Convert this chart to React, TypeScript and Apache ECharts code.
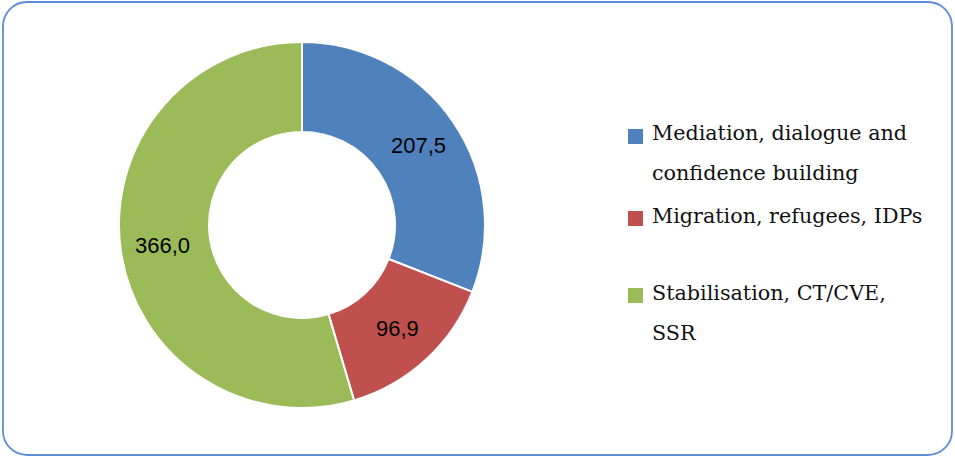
import React, { useEffect, useRef } from "react";
import * as echarts from "echarts";

const categories = [
  "Mediation, dialogue and confidence building",
  "Migration, refugees, IDPs",
  "Stabilisation, CT/CVE, SSR",
];
const values = [207.5, 96.9, 366.0];
const colors = ["#4f81bd", "#c0504d", "#9bbb59"];
const legendLines = [
  ["Mediation, dialogue and", "confidence building"],
  ["Migration, refugees, IDPs"],
  ["Stabilisation, CT/CVE,", "SSR"],
];

export default function App() {
  const ref = useRef<HTMLDivElement>(null);
  useEffect(() => {
    if (!ref.current) return;
    const chart = echarts.init(ref.current, undefined, { renderer: "svg" });
    const squareTops = [129, 211, 288];
    const lineMids = [[133, 173], [216], [293, 333]];
    const legendGraphics: any[] = [];
    categories.forEach((_, i) => {
      legendGraphics.push({
        type: "rect",
        shape: { x: 628, y: squareTops[i], width: 15, height: 15 },
        style: { fill: colors[i] },
      });
      legendLines[i].forEach((line, j) => {
        legendGraphics.push({
          type: "text",
          x: 652,
          y: lineMids[i][j],
          style: {
            text: line,
            fill: "#111111",
            font: '20.7px "DejaVu Serif"',
            verticalAlign: "middle",
            align: "left",
          },
        });
      });
    });
    chart.setOption({
      animation: false,
      backgroundColor: "#ffffff",
      graphic: [
        {
          type: "rect",
          shape: { x: 3, y: 2, width: 949, height: 453, r: 24 },
          style: { fill: "none", stroke: "#5b8ed6", lineWidth: 1.8 },
        },
        ...legendGraphics,
      ],
      series: [
        {
          type: "pie",
          center: [302, 225],
          radius: [93, 183],
          startAngle: 90,
          clockwise: true,
          itemStyle: { borderColor: "#ffffff", borderWidth: 2 },
          label: {
            show: true,
            position: "inside",
            color: "#000000",
            fontFamily: "Liberation Sans",
            fontSize: 22,
            formatter: (p: any) => p.value.toFixed(1).replace(".", ","),
          },
          labelLine: { show: false },
          emphasis: { disabled: true },
          data: categories.map((c, i) => ({
            name: c,
            value: values[i],
            itemStyle: { color: colors[i] },
          })),
        },
      ],
    });
    return () => chart.dispose();
  }, []);
  return (
    <div
      ref={ref}
      style={{ position: "fixed", left: 0, top: 0, width: 955, height: 459 }}
    />
  );
}
